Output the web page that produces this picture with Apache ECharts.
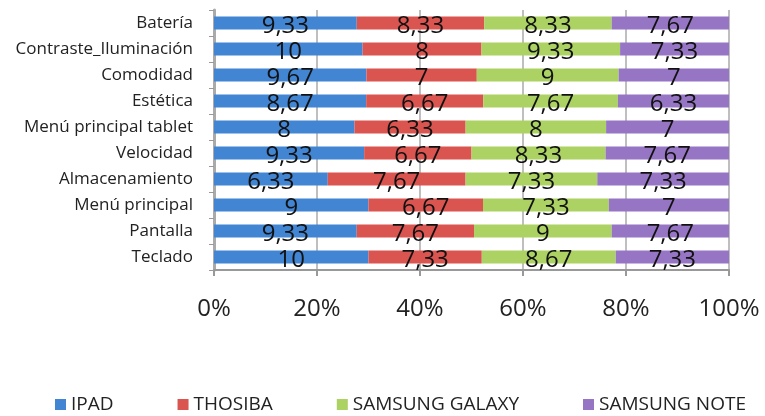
<!DOCTYPE html>
<html>
<head>
<meta charset="utf-8">
<script src="https://cdn.jsdelivr.net/npm/echarts@6/dist/echarts.min.js"></script>
<style>
  html, body { margin: 0; padding: 0; background: #fff; }
  #chart { width: 765px; height: 416px; }
</style>
</head>
<body>
<div id="chart"></div>
<script>
  // categorias de abajo hacia arriba
  var categories = ['Teclado', 'Pantalla', 'Menú principal', 'Almacenamiento', 'Velocidad',
    'Menú principal tablet', 'Estética', 'Comodidad', 'Contraste_Iluminación', 'Batería']
  var ipad = [10, 9.33, 9, 6.33, 9.33, 8, 8.67, 9.67, 10, 9.33]
  var thosiba = [7.33, 7.67, 6.67, 7.67, 6.67, 6.33, 6.67, 7, 8, 8.33]
  var galaxy = [8.67, 9, 7.33, 7.33, 8.33, 8, 7.67, 9, 9.33, 8.33]
  var note = [7.33, 7.67, 7, 7.33, 7.67, 7, 6.33, 7, 7.33, 7.67]
  var seriesNames = ['IPAD', 'THOSIBA', 'SAMSUNG GALAXY', 'SAMSUNG NOTE']
  var colors = ['#4285d3', '#da5450', '#abd262', '#9676c4']

  var raw = [ipad, thosiba, galaxy, note]
  var totals = categories.map(function (c, i) {
    return ipad[i] + thosiba[i] + galaxy[i] + note[i]
  })

  var series = raw.map(function (vals, k) {
    return {
      name: seriesNames[k],
      type: 'bar',
      stack: 'total',
      barWidth: 13,
      itemStyle: { color: colors[k] },
      label: {
        show: true,
        position: 'inside',
        offset: [0, 3],
        color: '#111',
        fontSize: 24,
        fontFamily: 'Open Sans',
        formatter: function (p) {
          return String(vals[p.dataIndex]).replace('.', ',')
        }
      },
      data: vals.map(function (v, i) { return v / totals[i] * 100 })
    }
  })

  var chart = echarts.init(document.getElementById('chart'))
  chart.setOption({
    animation: false,
    legend: {
      top: 390,
      left: 50,
      itemWidth: 11,
      itemHeight: 11,
      itemGap: 64,
      icon: 'rect',
      textStyle: { fontSize: 19, color: '#222', fontFamily: 'Open Sans' },
      data: seriesNames
    },
    grid: {
      left: 214,
      right: 36,
      top: 10,
      bottom: 146
    },
    xAxis: {
      type: 'value',
      min: 0,
      max: 100,
      interval: 20,
      axisLine: { show: true, lineStyle: { color: '#999', width: 2 } },
      axisTick: { show: true, length: 6, lineStyle: { color: '#999', width: 2 } },
      splitLine: { show: true, lineStyle: { color: '#aaa', width: 1.5 } },
      axisLabel: {
        margin: 27,
        fontSize: 24,
        color: '#222',
        fontFamily: 'Open Sans',
        formatter: '{value}%'
      }
    },
    yAxis: {
      type: 'category',
      data: categories,
      axisLine: { show: true, lineStyle: { color: '#aaa', width: 3 } },
      axisTick: { show: true, length: 5, lineStyle: { color: '#999' } },
      axisLabel: {
        margin: 21,
        fontSize: 17,
        color: '#222',
        fontFamily: 'Open Sans'
      }
    },
    series: series
  })
</script>
</body>
</html>
